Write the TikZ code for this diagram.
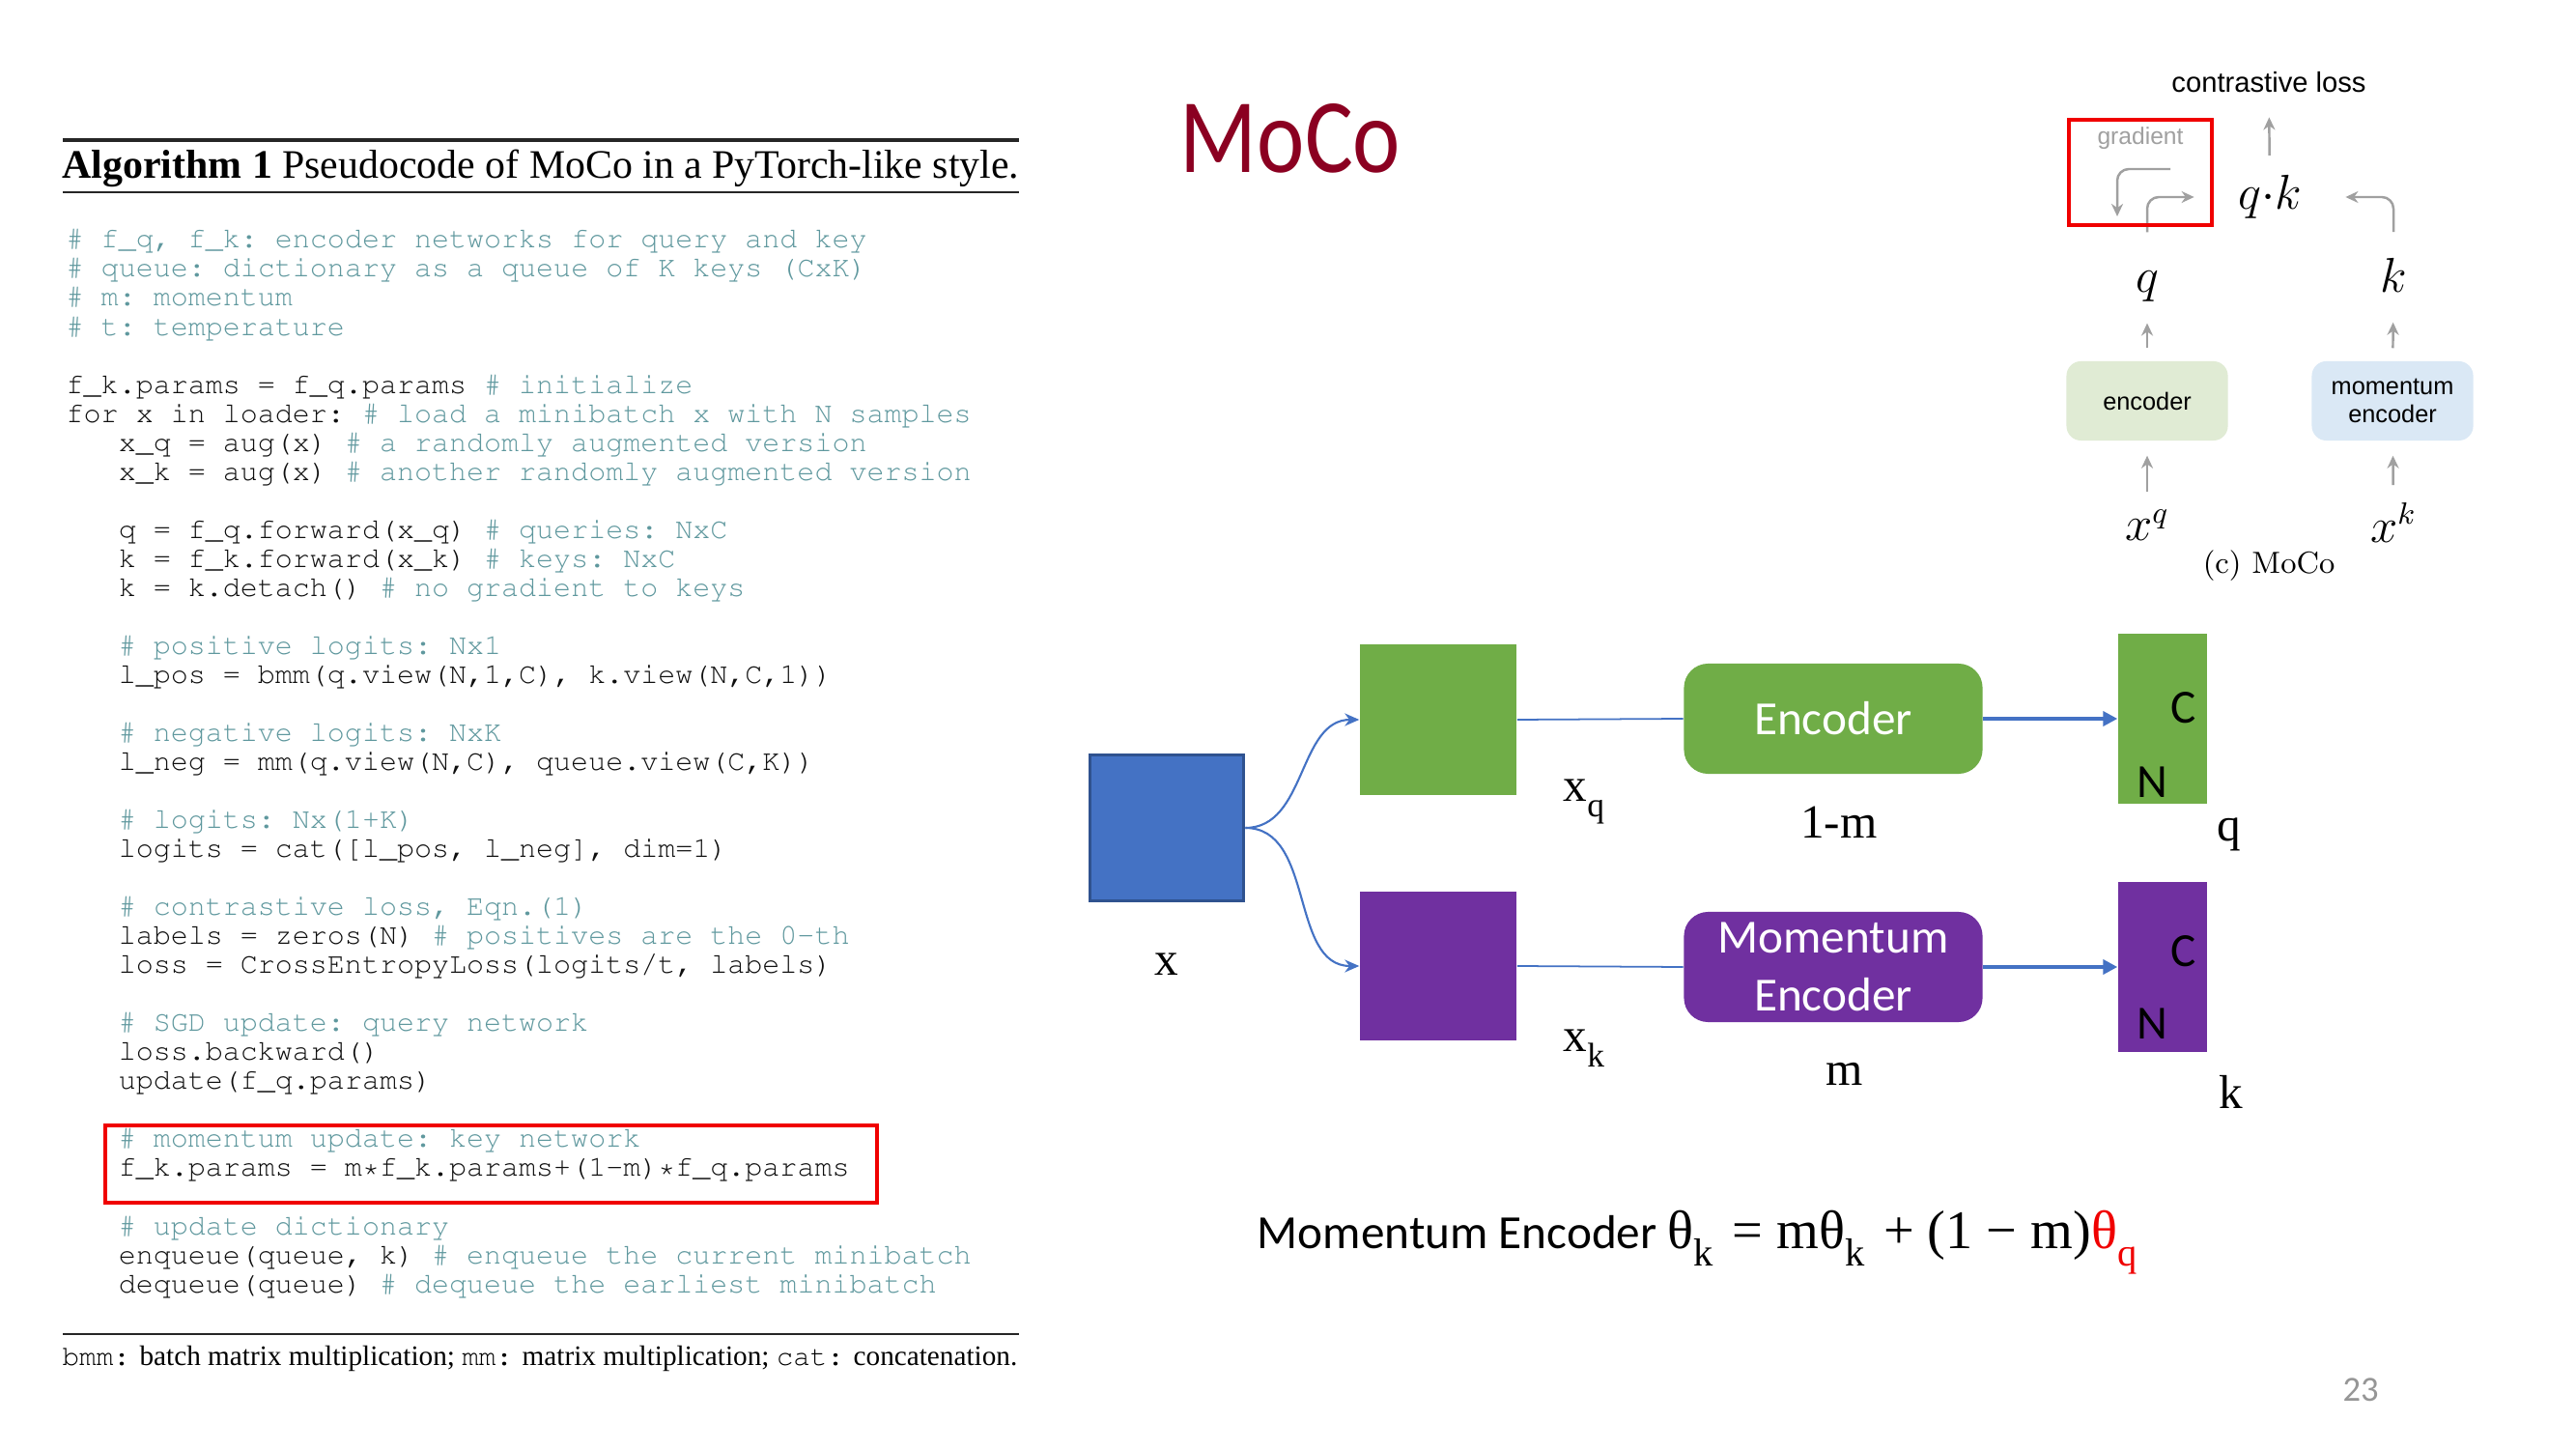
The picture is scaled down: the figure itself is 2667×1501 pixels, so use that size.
\documentclass[tikz,border=0pt]{standalone}
\usepackage[T1,TU]{fontenc}
\usepackage{fontspec}
\usepackage{graphicx}
\usetikzlibrary{arrows.meta}

\newfontfamily\carl{Carlito}
\newfontfamily\arialf{Liberation Sans}
\newfontfamily\timesf{Liberation Serif}
% Courier for the listing
\newcommand\courierf{\fontencoding{T1}\fontfamily{pcr}\selectfont}

\definecolor{mocored}{RGB}{139,0,33}
\definecolor{imgblue}{RGB}{68,114,196}
\definecolor{imgblueedge}{RGB}{47,82,143}
\definecolor{viewgreen}{RGB}{112,173,71}
\definecolor{viewpurple}{RGB}{112,48,160}
\definecolor{cmtcol}{RGB}{95,152,158}
\definecolor{codecol}{RGB}{15,15,15}
\definecolor{encfill}{RGB}{224,235,212}
\definecolor{mencfill}{RGB}{218,232,245}
\definecolor{arrowgrey}{RGB}{160,160,160}
\definecolor{hlred}{RGB}{240,0,0}
\definecolor{pagegrey}{RGB}{150,150,150}

% comment text inside the pseudocode
\newcommand\cmt[1]{\textcolor{cmtcol}{#1}}
% three-character indent of the loop body
\newcommand\ind{\hspace*{1.8em}}
% lowered subscript for the upright labels
\newcommand\lsub[1]{\raisebox{-0.32em}{\scalebox{0.72}{#1}}}

\tikzset{
  codeblock/.style={anchor=north west, align=left, inner sep=0pt, text=codecol,
    font=\courierf\fontsize{8.54pt}{8.54pt}\selectfont\frenchspacing},
  rule/.style={draw=black!85},
  hlbox/.style={draw=hlred, line width=1pt},
  imgbox/.style={fill=imgblue, draw=imgblueedge, line width=1pt, inner sep=0pt},
  viewbox/.style={inner sep=0pt, draw=none},
  encbox/.style={rounded corners=0.25cm, minimum width=3.09cm, minimum height=1.14cm,
    text=white, align=center, font=\carl\fontsize{14pt}{17pt}\selectfont, inner sep=0pt},
  featbox/.style={inner sep=0pt, minimum width=0.92cm, minimum height=1.75cm},
  dimlabel/.style={font=\carl\fontsize{14pt}{17pt}\selectfont, inner sep=0pt},
  varlabel/.style={font=\timesf\fontsize{14pt}{17pt}\selectfont, inner sep=0pt},
  curvearrow/.style={draw=imgblue, line width=0.6pt, -{Stealth[length=0.15cm,width=0.13cm]}},
  thinlink/.style={draw=imgblue, line width=0.5pt},
  featarrow/.style={draw=imgblue, line width=1.1pt, -{Triangle[length=0.15cm,width=0.15cm]}},
  garrow/.style={draw=arrowgrey, line width=0.7pt, -{Stealth[length=0.13cm,width=0.12cm]}},
  smallenc/.style={rounded corners=0.15cm, minimum width=1.67cm, minimum height=0.82cm,
    align=center, inner sep=0pt, font=\arialf\fontsize{7.2pt}{8.5pt}\selectfont},
  mathlabel/.style={inner sep=0pt, font=\fontsize{13.5pt}{16pt}\selectfont},
}

\begin{document}
\lineskiplimit=-100pt
\begin{tikzpicture}[x=0.01cm, y=-0.01cm]
\useasboundingbox (0,0) rectangle (2667,1501);
\fill[white] (0,0) rectangle (2667,1501);

% ---------------- Algorithm listing ----------------
\draw[rule, line width=1pt] (65,145) -- (1055,145);
\node[inner sep=0pt] (algtitle) at (560,174)
  {\resizebox{9.9cm}{!}{\timesf\textbf{Algorithm 1} Pseudocode of MoCo in a PyTorch-like style.}};
\draw[rule, line width=0.6pt] (65,199) -- (1055,199);

\node[codeblock] (code) at (68,237) {%
\cmt{\# f\_q, f\_k: encoder networks for query and key}\\
\cmt{\# queue: dictionary as a queue of K keys (CxK)}\\
\cmt{\# m: momentum}\\
\cmt{\# t: temperature}\\
\mbox{}\\
f\_k.params = f\_q.params \cmt{\# initialize}\\
for x in loader: \cmt{\# load a minibatch x with N samples}\\
\ind x\_q = aug(x) \cmt{\# a randomly augmented version}\\
\ind x\_k = aug(x) \cmt{\# another randomly augmented version}\\
\mbox{}\\
\ind q = f\_q.forward(x\_q) \cmt{\# queries: NxC}\\
\ind k = f\_k.forward(x\_k) \cmt{\# keys: NxC}\\
\ind k = k.detach() \cmt{\# no gradient to keys}\\
\mbox{}\\
\ind\cmt{\# positive logits: Nx1}\\
\ind l\_pos = bmm(q.view(N,1,C), k.view(N,C,1))\\
\mbox{}\\
\ind\cmt{\# negative logits: NxK}\\
\ind l\_neg = mm(q.view(N,C), queue.view(C,K))\\
\mbox{}\\
\ind\cmt{\# logits: Nx(1+K)}\\
\ind logits = cat([l\_pos, l\_neg], dim=1)\\
\mbox{}\\
\ind\cmt{\# contrastive loss, Eqn.(1)}\\
\ind labels = zeros(N) \cmt{\# positives are the 0-th}\\
\ind loss = CrossEntropyLoss(logits/t, labels)\\
\mbox{}\\
\ind\cmt{\# SGD update: query network}\\
\ind loss.backward()\\
\ind update(f\_q.params)\\
\mbox{}\\
\ind\cmt{\# momentum update: key network}\\
\ind f\_k.params = m*f\_k.params+(1-m)*f\_q.params\\
\mbox{}\\
\ind\cmt{\# update dictionary}\\
\ind enqueue(queue, k) \cmt{\# enqueue the current minibatch}\\
\ind dequeue(queue) \cmt{\# dequeue the earliest minibatch}};

\draw[hlbox] (109,1165) rectangle (908,1245);

\draw[rule, line width=0.6pt] (65,1381) -- (1055,1381);
\node[inner sep=0pt] (algcap) at (559,1406)
  {\resizebox{9.88cm}{!}{\timesf{\courierf bmm:} batch matrix multiplication; {\courierf mm:} matrix multiplication; {\courierf cat:} concatenation.}};

% ---------------- Title ----------------
\node[inner sep=0pt, text=mocored] (title) at (1336,143)
  {\resizebox{2.28cm}{0.71cm}{\carl MoCo}};

% ---------------- Small MoCo figure ----------------
\node[inner sep=0pt, font=\arialf\fontsize{8.3pt}{10pt}\selectfont] (closs) at (2349,85) {contrastive loss};
\node[mathlabel] (qk) at (2350,204) {$q{\cdot}k$};
\node[mathlabel, anchor=base] (qsym) at (2223,303) {$q$};
\node[mathlabel, anchor=base] (ksym) at (2478,303) {$k$};
\node[smallenc, fill=encfill] (encS) at (2223,415) {encoder};
\node[smallenc, fill=mencfill] (mencS) at (2477,415) {momentum\\encoder};
\node[mathlabel] (xqsym) at (2223,544) {$x^q$};
\node[mathlabel] (xksym) at (2478,541) {$x^k$};
\node[inner sep=0pt, font=\fontsize{9pt}{11pt}\selectfont] (figcap) at (2349,586) {(c) MoCo};

\draw[garrow, shorten <=0.18cm, shorten >=0.15cm] (xqsym) -- (encS);
\draw[garrow, shorten <=0.18cm, shorten >=0.15cm] (xksym) -- (mencS);
\draw[garrow, shorten <=0.13cm, shorten >=0.21cm] (encS) -- (qsym);
\draw[garrow, shorten <=0.13cm, shorten >=0.3cm] (mencS) -- (ksym);
\draw[garrow, shorten <=0.2cm, shorten >=0.25cm] (qk) -- (closs);
\draw[garrow, rounded corners=0.12cm, shorten <=0.4cm, shorten >=0.45cm] (qsym.north) |- (qk.west);
\draw[garrow, rounded corners=0.12cm, shorten <=0.27cm, shorten >=0.45cm] (ksym.north) |- (qk.east);

\draw[hlbox] (2142,124) rectangle (2290,233);
\node[inner sep=0pt, text=arrowgrey, font=\arialf\fontsize{7pt}{8pt}\selectfont] (gradtxt) at (2216,143) {gradient};
\coordinate (gstart) at (2247,175);
\coordinate (gend) at (2192,224);
\draw[garrow, rounded corners=0.12cm] (gstart) -| (gend);

% ---------------- Query / key pipeline ----------------
\node[imgbox, minimum width=1.59cm, minimum height=1.51cm] (img) at (1208,857) {};
\node[viewbox, fill=viewgreen, minimum width=1.62cm, minimum height=1.55cm] (xqbox) at (1489,745) {};
\node[viewbox, fill=viewpurple, minimum width=1.62cm, minimum height=1.53cm] (xkbox) at (1489,1000) {};
\node[encbox, fill=viewgreen] (enc) at (1898,744) {Encoder};
\node[encbox, fill=viewpurple] (menc) at (1898,1001) {Momentum\\Encoder};
\node[featbox, fill=viewgreen] (qfeat) at (2239,744) {};
\node[featbox, fill=viewpurple] (kfeat) at (2239,1001) {};

\node[dimlabel] (qC) at (2261,733) {C};
\node[dimlabel] (qN) at (2228,810) {N};
\node[dimlabel] (kC) at (2261,985) {C};
\node[dimlabel] (kN) at (2228,1060) {N};

\node[varlabel] (xlab) at (1208,998) {x};
\node[varlabel] (xqlab) at (1640,830) {x\lsub{q}};
\node[varlabel] (xklab) at (1640,1085) {x\lsub{k}};
\node[varlabel] (onemlab) at (1904,851) {1-m};
\node[varlabel] (mlab) at (1910,1112) {m};
\node[varlabel] (qlab) at (2308,864) {q};
\node[varlabel] (klab) at (2310,1130) {k};

\draw[curvearrow] (img.east) to[out=0, in=180] (xqbox.west);
\draw[curvearrow] (img.east) to[out=0, in=180] (xkbox.west);
\draw[thinlink] (xqbox.east) -- (enc.west);
\draw[thinlink] (xkbox.east) -- (menc.west);
\draw[featarrow] (enc.east) -- (qfeat.west);
\draw[featarrow] (menc.east) -- (kfeat.west);

% ---------------- Momentum update rule ----------------
\node[anchor=base west, inner sep=0pt] (rule) at (1301,1292)
  {{\carl\fontsize{14pt}{17pt}\selectfont Momentum Encoder }{\timesf\fontsize{16pt}{18pt}\selectfont θ\lsub{k}\hspace{0.1em} = mθ\lsub{k}\hspace{0.1em} + (1 − m)\textcolor{hlred}{θ\lsub{q}}}};

% page number
\node[inner sep=0pt, text=pagegrey, font=\carl\fontsize{10.4pt}{12pt}\selectfont] (pagenum) at (2444,1439) {23};
\end{tikzpicture}
\end{document}
